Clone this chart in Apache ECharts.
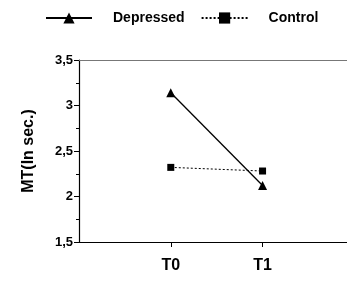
<!DOCTYPE html>
<html>
<head>
<meta charset="utf-8">
<script src="https://cdn.jsdelivr.net/npm/echarts@6/dist/echarts.min.js"></script>
<style>
 html,body{margin:0;padding:0;background:#fff;}
 #main{width:347px;height:283px;}
</style>
</head>
<body>
<div id="main"></div>
<script>
// categories and values
var times = ['T0', 'T1'];
var timePos = [1, 2];
var depressed = [3.14, 2.12];
var control = [2.32, 2.28];
var yTicks = ['1,5', '2', '2,5', '3', '3,5'];

var font = '"Liberation Sans Narrow", "Liberation Sans", Arial, sans-serif';

function pairs(vals){
	var out = [];
	for (var i = 0; i < vals.length; i++) out.push([timePos[i], vals[i]]);
	return out;
}

var myChart = echarts.init(document.getElementById('main'));
var option = {
	animation: false,
	backgroundColor: '#fff',
	legend: {
		top: 6,
		left: 40,
		itemWidth: 46,
		itemHeight: 14,
		itemGap: 16,
		textStyle: {fontFamily: font, fontWeight: 'bold', fontSize: 14, color: '#000', padding: [0, 0, 0, 16]},
		data: ['Depressed', 'Control']
	},
	grid: {left: 79, top: 60, right: 0, bottom: 41},
	xAxis: [{
		type: 'value',
		min: 0,
		max: 2.92,
		axisLine: {lineStyle: {color: '#000', width: 1.2}},
		axisTick: {show: true, length: 5, customValues: timePos, lineStyle: {color: '#000'}},
		splitLine: {show: false},
		axisLabel: {
			fontFamily: font, fontWeight: 'bold', fontSize: 16, color: '#000', margin: 16,
			customValues: timePos,
			formatter: function(v){ var i = timePos.indexOf(v); return i >= 0 ? times[i] : ''; }
		}
	}, {
		type: 'value',
		position: 'top',
		min: 0,
		max: 2.92,
		axisLine: {show: true, lineStyle: {color: '#777', width: 1}},
		axisTick: {show: false},
		axisLabel: {show: false},
		splitLine: {show: false}
	}],
	yAxis: {
		type: 'value',
		min: 1.5,
		max: 3.5,
		interval: 0.5,
		name: 'MT(In sec.)',
		nameLocation: 'middle',
		nameGap: 42,
		nameTextStyle: {fontFamily: font, fontWeight: 'bold', fontSize: 16, color: '#000'},
		axisLine: {show: true, lineStyle: {color: '#000', width: 1.2}},
		axisTick: {show: true, length: 5, lineStyle: {color: '#000'}},
		minorTick: {show: true, splitNumber: 2, length: 3, lineStyle: {color: '#000'}},
		splitLine: {show: false},
		axisLabel: {
			fontFamily: font, fontWeight: 'bold', fontSize: 13, color: '#000', margin: 6,
			formatter: function(v){ return yTicks[Math.round((v - 1.5) / 0.5)]; }
		}
	},
	series: [{
		name: 'Depressed',
		type: 'line',
		data: pairs(depressed),
		symbol: 'triangle',
		symbolSize: 9,
		itemStyle: {color: '#000'},
		lineStyle: {color: '#000', width: 1.3, type: 'solid'}
	}, {
		name: 'Control',
		type: 'line',
		data: pairs(control),
		symbol: 'rect',
		symbolSize: 7,
		itemStyle: {color: '#000'},
		lineStyle: {color: '#000', width: 1, type: [2, 2]}
	}]
};
myChart.setOption(option);
</script>
</body>
</html>
